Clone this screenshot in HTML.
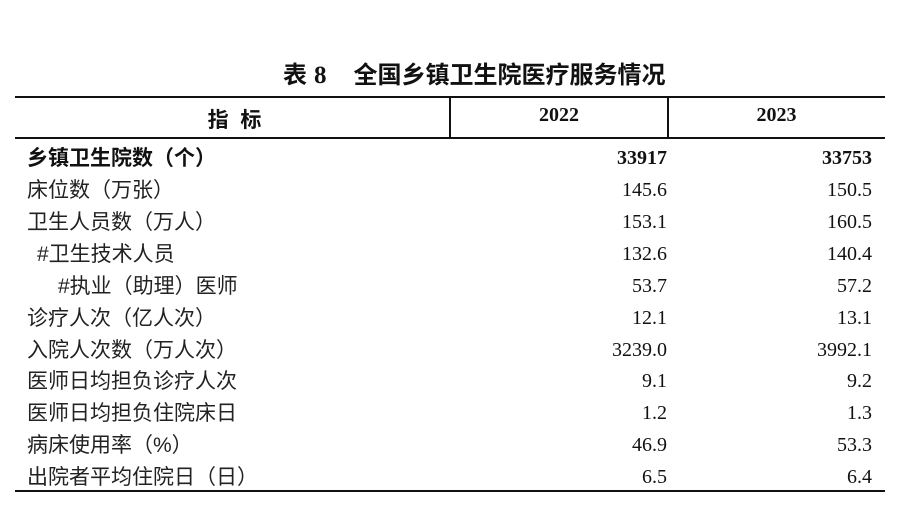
<!DOCTYPE html>
<html>
<head>
<meta charset="utf-8">
<style>
  html, body { margin:0; padding:0; background:#fff; }
  body { width:919px; height:524px; position:relative; overflow:hidden; color:#111; }
  .a { position:absolute; white-space:nowrap; }
  .cn { font-family:"Liberation Sans","Noto Sans CJK SC",sans-serif; font-size:21px; height:32px; line-height:32px; color:#222; margin-top:2px; }
  .num { font-family:"Liberation Serif","Noto Serif CJK SC",serif; font-size:20px; height:32px; line-height:32px; text-align:right; margin-top:1px; }
  .b { font-weight:bold; color:#111; }
  .line { position:absolute; background:#111; }
</style>
</head>
<body>
  <!-- Title -->
  <div class="a" style="left:283px; top:60px; height:32px; line-height:32px; font-size:24px; font-weight:bold; font-family:'Liberation Sans','Noto Sans CJK SC',sans-serif;">表<span style="font-family:'Liberation Serif',serif; font-size:25px; margin-left:7px;">8</span><span style="display:inline-block; width:27px;"></span>全国乡镇卫生院医疗服务情况</div>

  <!-- Lines -->
  <div class="line" style="left:15px; top:96px; width:870px; height:2px;"></div>
  <div class="line" style="left:15px; top:137px; width:870px; height:2px;"></div>
  <div class="line" style="left:449px; top:97px; width:2px; height:41px;"></div>
  <div class="line" style="left:667px; top:97px; width:2px; height:41px;"></div>
  <div class="line" style="left:15px; top:490px; width:870px; height:2px;"></div>

  <!-- Header -->
  <div class="a cn b" style="left:17px; width:435px; top:103px; text-align:center;">指&nbsp;&nbsp;标</div>
  <div class="a num b" style="left:450px; width:218px; top:98px; text-align:center;">2022</div>
  <div class="a num b" style="left:668px; width:217px; top:98px; text-align:center;">2023</div>

  <!-- Rows -->
  <div class="a cn b" style="left:27px; top:141px;">乡镇卫生院数（个）</div>
  <div class="a num b" style="left:500px; width:167px; top:141px;">33917</div>
  <div class="a num b" style="left:700px; width:172px; top:141px;">33753</div>

  <div class="a cn" style="left:27px; top:173px;">床位数（万张）</div>
  <div class="a num" style="left:500px; width:167px; top:173px;">145.6</div>
  <div class="a num" style="left:700px; width:172px; top:173px;">150.5</div>

  <div class="a cn" style="left:27px; top:205px;">卫生人员数（万人）</div>
  <div class="a num" style="left:500px; width:167px; top:205px;">153.1</div>
  <div class="a num" style="left:700px; width:172px; top:205px;">160.5</div>

  <div class="a cn" style="left:37px; top:237px;">#卫生技术人员</div>
  <div class="a num" style="left:500px; width:167px; top:237px;">132.6</div>
  <div class="a num" style="left:700px; width:172px; top:237px;">140.4</div>

  <div class="a cn" style="left:58px; top:269px;">#执业（助理）医师</div>
  <div class="a num" style="left:500px; width:167px; top:269px;">53.7</div>
  <div class="a num" style="left:700px; width:172px; top:269px;">57.2</div>

  <div class="a cn" style="left:27px; top:301px;">诊疗人次（亿人次）</div>
  <div class="a num" style="left:500px; width:167px; top:301px;">12.1</div>
  <div class="a num" style="left:700px; width:172px; top:301px;">13.1</div>

  <div class="a cn" style="left:27px; top:333px;">入院人次数（万人次）</div>
  <div class="a num" style="left:500px; width:167px; top:333px;">3239.0</div>
  <div class="a num" style="left:700px; width:172px; top:333px;">3992.1</div>

  <div class="a cn" style="left:27px; top:364px;">医师日均担负诊疗人次</div>
  <div class="a num" style="left:500px; width:167px; top:364px;">9.1</div>
  <div class="a num" style="left:700px; width:172px; top:364px;">9.2</div>

  <div class="a cn" style="left:27px; top:396px;">医师日均担负住院床日</div>
  <div class="a num" style="left:500px; width:167px; top:396px;">1.2</div>
  <div class="a num" style="left:700px; width:172px; top:396px;">1.3</div>

  <div class="a cn" style="left:27px; top:428px;">病床使用率（%）</div>
  <div class="a num" style="left:500px; width:167px; top:428px;">46.9</div>
  <div class="a num" style="left:700px; width:172px; top:428px;">53.3</div>

  <div class="a cn" style="left:27px; top:460px;">出院者平均住院日（日）</div>
  <div class="a num" style="left:500px; width:167px; top:460px;">6.5</div>
  <div class="a num" style="left:700px; width:172px; top:460px;">6.4</div>
</body>
</html>
